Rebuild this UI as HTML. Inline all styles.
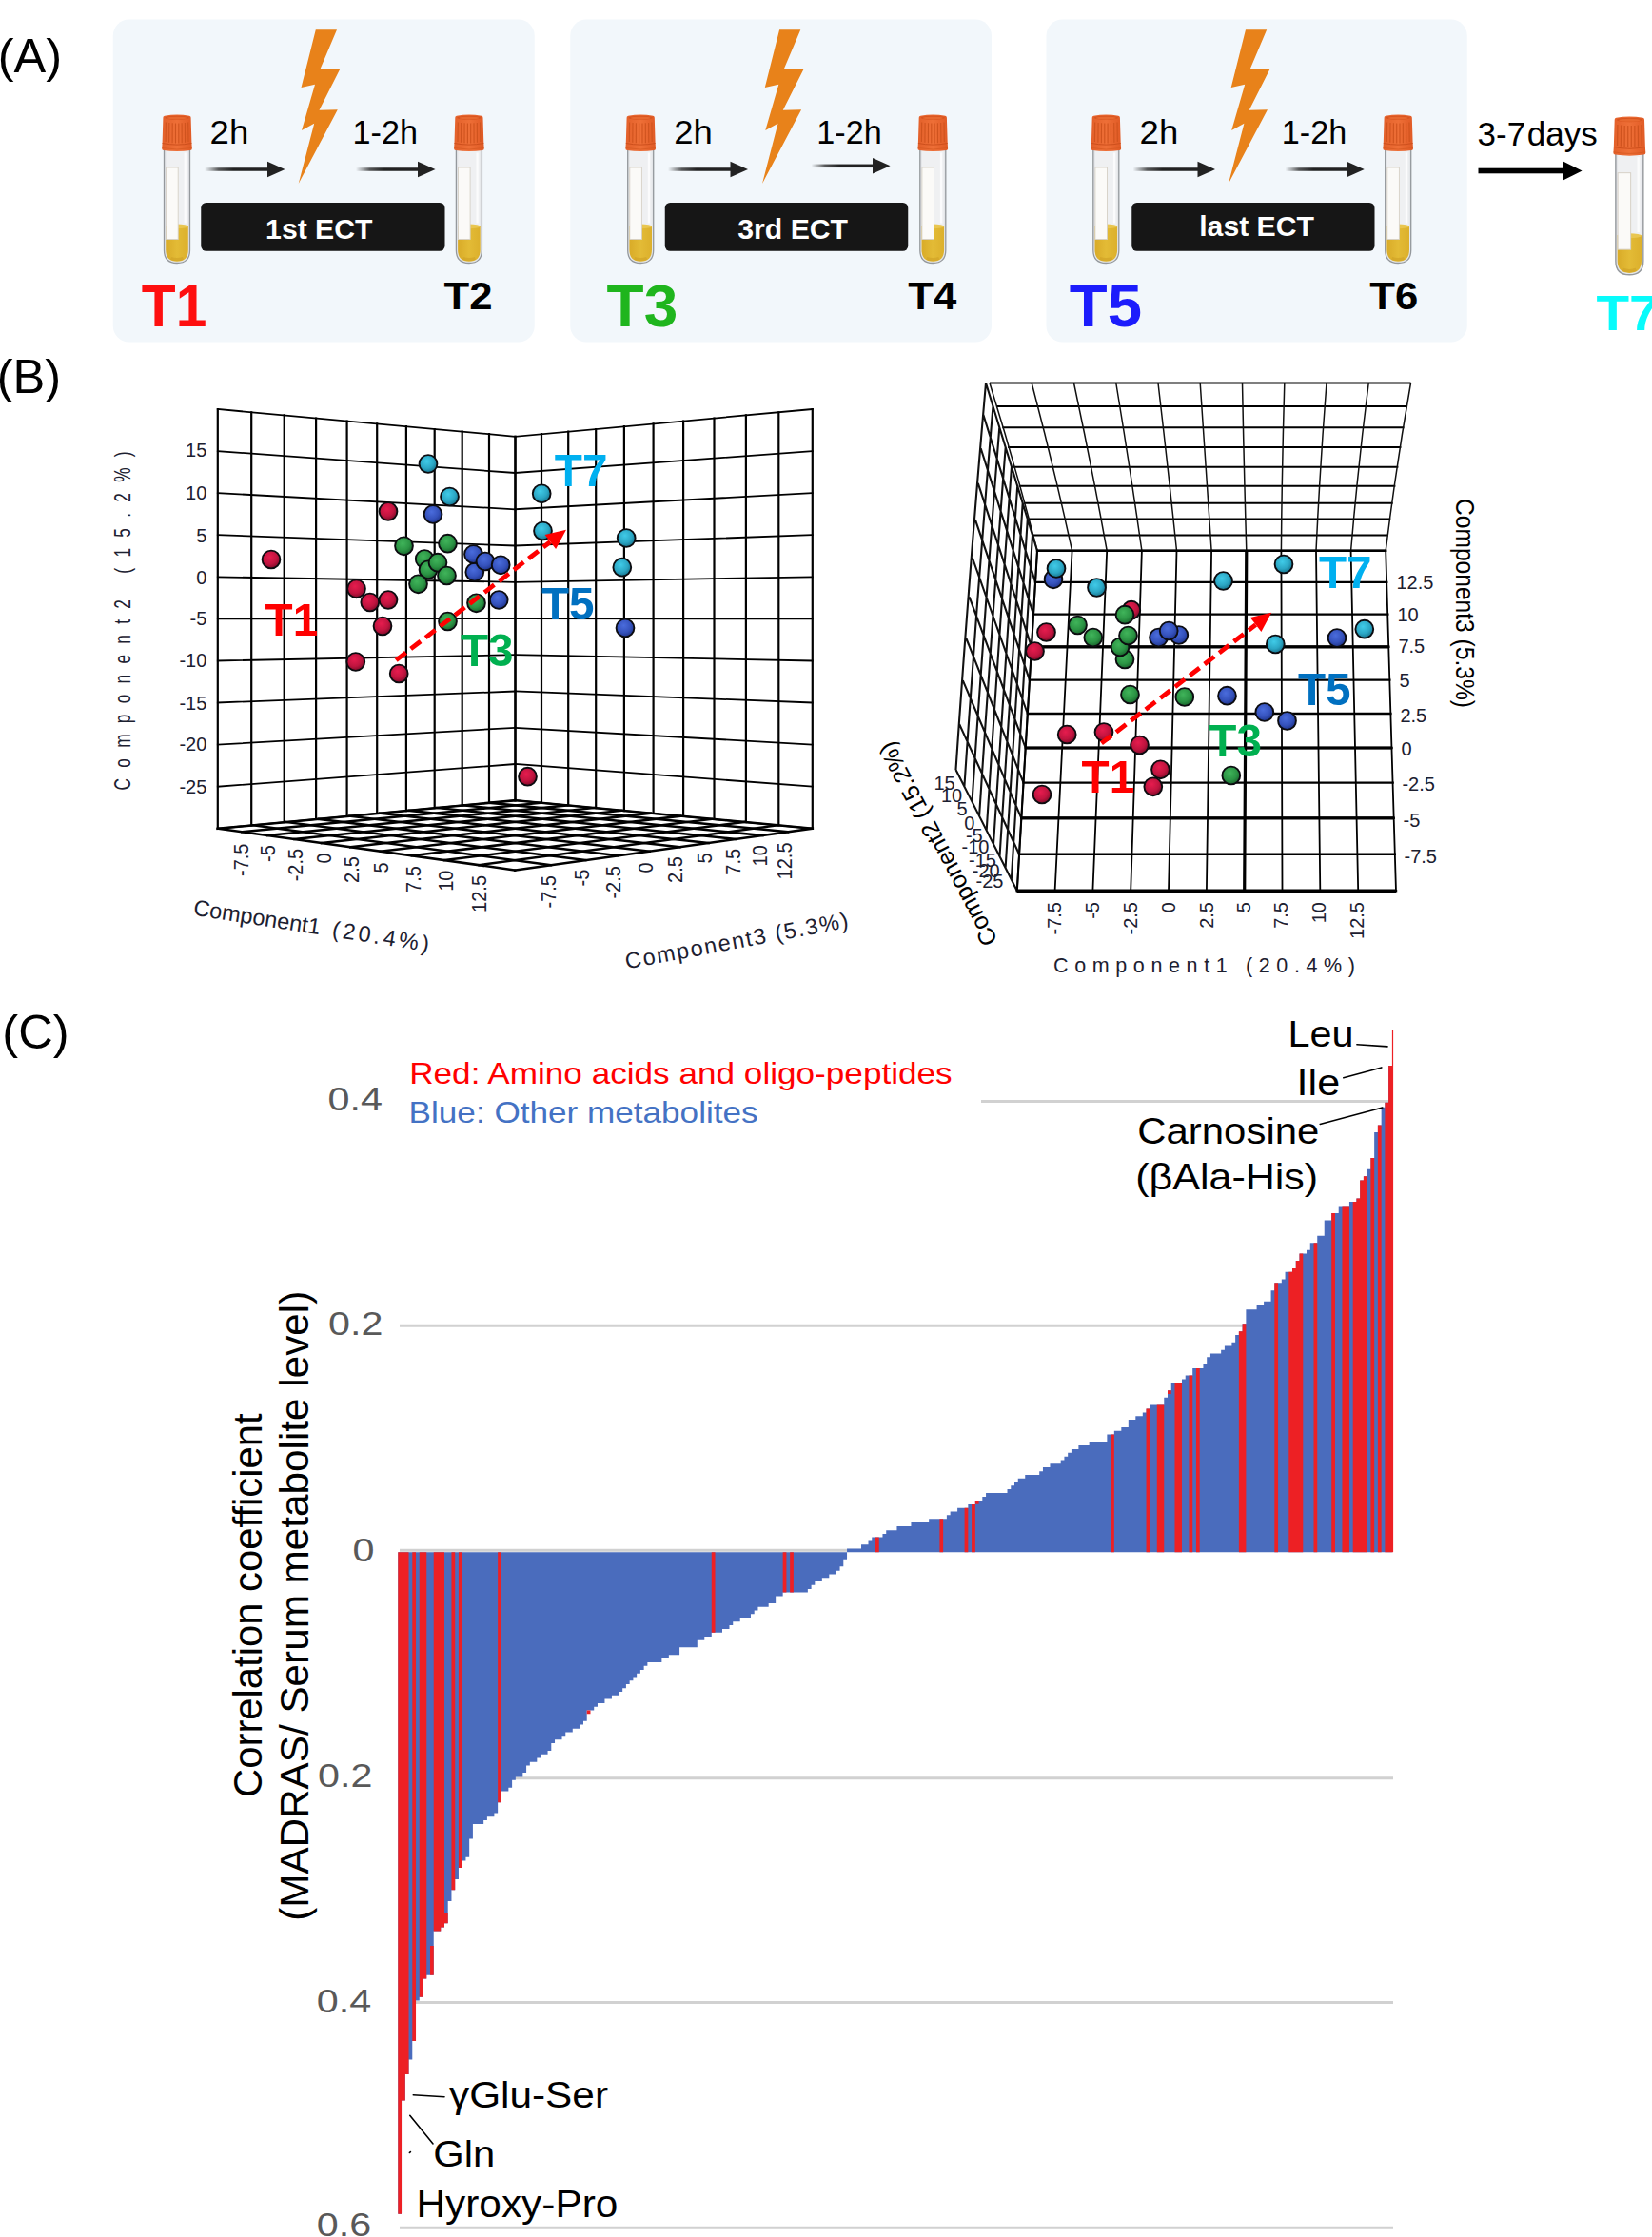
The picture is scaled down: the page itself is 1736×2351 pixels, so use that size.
<!DOCTYPE html>
<html lang="en">
<head>
<meta charset="utf-8">
<title>Figure</title>
<style>
html,body{margin:0;padding:0;background:#fff;}
body{width:1736px;height:2351px;overflow:hidden;}
svg{display:block;}
text{font-family:"Liberation Sans",sans-serif;}
</style>
</head>
<body>
<svg width="1736" height="2351" viewBox="0 0 1736 2351">
<rect x="0" y="0" width="1736" height="2351" fill="#ffffff"/>
<defs>
<linearGradient id="ag" x1="0" y1="0" x2="1" y2="0">
<stop offset="0" stop-color="#222222" stop-opacity="0"/>
<stop offset="0.22" stop-color="#222222" stop-opacity="0.75"/>
<stop offset="0.45" stop-color="#222222" stop-opacity="1"/>
<stop offset="1" stop-color="#222222" stop-opacity="1"/>
</linearGradient>
<linearGradient id="capg" x1="0" y1="0" x2="1" y2="0">
<stop offset="0" stop-color="#e3602a"/>
<stop offset="0.5" stop-color="#ee6f37"/>
<stop offset="1" stop-color="#e05a25"/>
</linearGradient>
<linearGradient id="liqg" x1="0" y1="0" x2="1" y2="0">
<stop offset="0" stop-color="#d9ab28"/>
<stop offset="0.5" stop-color="#e3bb36"/>
<stop offset="1" stop-color="#dcb02c"/>
</linearGradient>
<g id="tube">
<path d="M2.5,36 L2.5,142.5 Q2.5,156 16,156 Q29.5,156 29.5,142.5 L29.5,36 Z" fill="#e4e6e9" stroke="#94989c" stroke-width="1.3"/>
<path d="M4.6,38 L4.6,142 Q4.6,153.6 16,153.6 Q27.4,153.6 27.4,142 L27.4,38 Z" fill="#eff0f2"/>
<path d="M4.2,117 L27.8,117 L27.8,142 Q27.8,154.2 16,154.2 Q4.2,154.2 4.2,142 Z" fill="url(#liqg)"/>
<ellipse cx="16" cy="117.4" rx="11.8" ry="2.3" fill="#e9c650"/>
<path d="M9,152.2 Q16,155.4 23,152.2 L22,149.5 Q16,151.5 10,149.5 Z" fill="#cfa024" opacity="0.6"/>
<rect x="4.6" y="55.5" width="12.6" height="75.5" fill="#fbfaf8" stroke="#d6d0c6" stroke-width="0.9"/>
<rect x="23.6" y="40" width="2.2" height="74" fill="#ffffff" opacity="0.75"/>
<path d="M1.4,3.2 Q1.2,1.6 3,1.2 Q16,-1.2 29,1.2 Q30.8,1.6 30.6,3.2 L31.4,29.5 L31.8,35.8 Q31.8,37.4 30,37.6 Q16,39.6 2,37.6 Q0.2,37.4 0.2,35.8 L0.6,29.5 Z" fill="url(#capg)"/>
<ellipse cx="16" cy="3.2" rx="12.6" ry="2.1" fill="#d8541f"/>
<ellipse cx="16" cy="3.6" rx="10.6" ry="1.4" fill="#e7682f"/>
<path d="M0.6,30 Q16,33.2 31.4,30" fill="none" stroke="#cd4f1c" stroke-width="1"/>
<path d="M0.4,35 Q16,38 31.6,35" fill="none" stroke="#d4571f" stroke-width="0.7"/>
<g stroke="#cf531e" stroke-width="1.1">
<line x1="4.4" y1="8" x2="4.1" y2="28.6"/><line x1="7.8" y1="8.4" x2="7.6" y2="29.2"/>
<line x1="11.2" y1="8.8" x2="11.1" y2="29.7"/><line x1="14.5" y1="9" x2="14.5" y2="30"/>
<line x1="17.8" y1="9" x2="17.8" y2="30"/><line x1="21.1" y1="8.8" x2="21.2" y2="29.7"/>
<line x1="24.4" y1="8.4" x2="24.6" y2="29.2"/><line x1="27.7" y1="8" x2="28" y2="28.6"/>
</g>
</g>
</defs>
<rect x="118.75" y="20.5" width="443.00" height="339" rx="17" ry="17" fill="#f2f7fb"/>
<rect x="599.25" y="20.5" width="442.75" height="339" rx="17" ry="17" fill="#f2f7fb"/>
<rect x="1099.5" y="20.5" width="442.25" height="339" rx="17" ry="17" fill="#f2f7fb"/>
<text x="-2.3" y="75.8" font-size="50.6" fill="#000">(A)</text>
<use href="#tube" transform="translate(170.00,120.50) scale(1.0000,1.0000)"/>
<use href="#tube" transform="translate(476.90,120.50) scale(1.0000,1.0000)"/>
<use href="#tube" transform="translate(657.20,120.50) scale(1.0000,1.0000)"/>
<use href="#tube" transform="translate(964.30,120.50) scale(1.0000,1.0000)"/>
<use href="#tube" transform="translate(1146.30,120.50) scale(1.0000,1.0000)"/>
<use href="#tube" transform="translate(1453.20,120.50) scale(1.0000,1.0000)"/>
<use href="#tube" transform="translate(1695.20,122.50) scale(1.0720,1.0660)"/>
<polygon points="331.8,31.3 354.0,31.3 336.3,73.1 357.2,72.7 335.5,115.7 354.8,115.3 313.7,193.0 330.2,129.8 317.0,137.1 331.0,88.8 316.5,92.0" fill="#e8821a"/>
<polygon points="819.1,31.3 841.3,31.3 823.6,73.1 844.5,72.7 822.8,115.7 842.1,115.3 801.0,193.0 817.5,129.8 804.3,137.1 818.3,88.8 803.8,92.0" fill="#e8821a"/>
<polygon points="1309.0,31.3 1331.2,31.3 1313.5,73.1 1334.4,72.7 1312.7,115.7 1332.0,115.3 1290.9,193.0 1307.4,129.8 1294.2,137.1 1308.2,88.8 1293.7,92.0" fill="#e8821a"/>
<rect x="215.00" y="176.25" width="67.00" height="3.5" fill="url(#ag)"/><polygon points="281.00,169.70 299.50,178.00 281.00,186.30" fill="#222222"/>
<rect x="374.00" y="176.25" width="66.00" height="3.5" fill="url(#ag)"/><polygon points="439.00,169.70 457.50,178.00 439.00,186.30" fill="#222222"/>
<rect x="702.00" y="176.25" width="66.50" height="3.5" fill="url(#ag)"/><polygon points="767.50,169.70 786.00,178.00 767.50,186.30" fill="#222222"/>
<rect x="852.50" y="172.55" width="65.50" height="3.5" fill="url(#ag)"/><polygon points="917.00,166.00 935.50,174.30 917.00,182.60" fill="#222222"/>
<rect x="1190.50" y="176.25" width="69.00" height="3.5" fill="url(#ag)"/><polygon points="1258.50,169.70 1277.00,178.00 1258.50,186.30" fill="#222222"/>
<rect x="1350.50" y="176.25" width="65.75" height="3.5" fill="url(#ag)"/><polygon points="1415.25,169.70 1433.75,178.00 1415.25,186.30" fill="#222222"/>
<rect x="1553.5" y="176.7" width="92" height="5.6" fill="#000"/><polygon points="1643,169.7 1662.6,179.5 1643,189.3" fill="#000"/>
<text x="220.6" y="150.8" font-size="34.2" fill="#000" lengthAdjust="spacingAndGlyphs" textLength="40.6">2h</text>
<text x="370.6" y="150.8" font-size="34.2" fill="#000" lengthAdjust="spacingAndGlyphs">1-2h</text>
<text x="708.2" y="150.8" font-size="34.2" fill="#000" lengthAdjust="spacingAndGlyphs" textLength="40.6">2h</text>
<text x="858.3" y="150.8" font-size="34.2" fill="#000" lengthAdjust="spacingAndGlyphs">1-2h</text>
<text x="1197.6" y="150.8" font-size="34.2" fill="#000" lengthAdjust="spacingAndGlyphs" textLength="40.6">2h</text>
<text x="1346.8" y="150.8" font-size="34.2" fill="#000" lengthAdjust="spacingAndGlyphs">1-2h</text>
<text x="1552.6" y="152.8" font-size="35" fill="#000">3-7<tspan dx="1.6">days</tspan></text>
<rect x="211.25" y="213" width="256.25" height="50.8" rx="5.5" ry="5.5" fill="#161616"/><text x="335.3" y="250.8" font-size="30.2" font-weight="bold" fill="#fff" text-anchor="middle">1st ECT</text>
<rect x="698.75" y="213" width="255.50" height="50.8" rx="5.5" ry="5.5" fill="#161616"/><text x="833.2" y="250.8" font-size="30.2" font-weight="bold" fill="#fff" text-anchor="middle">3rd ECT</text>
<rect x="1189.25" y="213" width="255.25" height="50.8" rx="5.5" ry="5.5" fill="#161616"/><text x="1320.6" y="247.6" font-size="30.2" font-weight="bold" fill="#fff" text-anchor="middle">last ECT</text>
<text x="148.8" y="342.6" font-size="63.2" font-weight="bold" fill="#fe0f0f" textLength="68.5" lengthAdjust="spacingAndGlyphs">T1</text>
<text x="637.6" y="342.6" font-size="63.2" font-weight="bold" fill="#1fb51d" textLength="74.6" lengthAdjust="spacingAndGlyphs">T3</text>
<text x="1123.8" y="342.6" font-size="63.2" font-weight="bold" fill="#1c1cfc" textLength="76.2" lengthAdjust="spacingAndGlyphs">T5</text>
<text x="1677.4" y="346.6" font-size="52.6" font-weight="bold" fill="#08fbfb" textLength="66" lengthAdjust="spacingAndGlyphs">T7</text>
<text x="466.6" y="324.6" font-size="39.8" font-weight="bold" fill="#000" textLength="51" lengthAdjust="spacingAndGlyphs">T2</text>
<text x="954.2" y="324.6" font-size="39.8" font-weight="bold" fill="#000" textLength="51" lengthAdjust="spacingAndGlyphs">T4</text>
<text x="1439.2" y="324.6" font-size="39.8" font-weight="bold" fill="#000" textLength="51" lengthAdjust="spacingAndGlyphs">T6</text>
<defs>
<radialGradient id="br" cx="0.42" cy="0.36" r="0.66"><stop offset="0" stop-color="#e61c4e"/><stop offset="0.6" stop-color="#c0143f"/><stop offset="1" stop-color="#7a0b28"/></radialGradient>
<radialGradient id="bg" cx="0.42" cy="0.36" r="0.66"><stop offset="0" stop-color="#40b45a"/><stop offset="0.6" stop-color="#2b9444"/><stop offset="1" stop-color="#17602a"/></radialGradient>
<radialGradient id="bb" cx="0.42" cy="0.36" r="0.66"><stop offset="0" stop-color="#4a6cdc"/><stop offset="0.6" stop-color="#3552bc"/><stop offset="1" stop-color="#1d3288"/></radialGradient>
<radialGradient id="bc" cx="0.42" cy="0.36" r="0.66"><stop offset="0" stop-color="#40cbe8"/><stop offset="0.6" stop-color="#2ba6c4"/><stop offset="1" stop-color="#15708a"/></radialGradient>
</defs>
<text x="-3.3" y="412.7" font-size="50.6" fill="#000">(B)</text>
<path d="M228.8,430.0L228.8,870.8M264.2,433.3L264.2,867.4M298.7,436.4L298.7,864.2M332.1,439.5L332.1,861.0M364.6,442.5L364.6,857.9M396.2,445.4L396.2,855.0M426.9,448.2L426.9,852.1M456.7,451.0L456.7,849.2M485.7,453.6L485.7,846.5M514.0,456.2L514.0,843.8M541.5,458.8L541.5,841.2" fill="none" stroke="#000" stroke-width="2.2" stroke-linecap="square"/>
<path d="M228.8,430.0L541.5,458.8M228.8,474.1L541.5,497.0M228.8,518.1L541.5,535.3M228.8,562.2L541.5,573.5M228.8,606.3L541.5,611.8M228.8,650.4L541.5,650.0M228.8,694.5L541.5,688.2M228.8,738.5L541.5,726.5M228.8,782.6L541.5,764.8M228.8,826.7L541.5,803.0M228.8,870.8L541.5,841.2" fill="none" stroke="#000" stroke-width="1.8" stroke-linecap="square"/>
<path d="M541.5,458.8L541.5,841.2M569.0,456.2L569.0,843.8M597.2,453.6L597.2,846.5M626.2,451.0L626.2,849.2M655.9,448.2L655.9,852.1M686.6,445.4L686.6,855.0M718.1,442.5L718.1,857.9M750.5,439.5L750.5,861.0M783.9,436.4L783.9,864.2M818.3,433.3L818.3,867.4M853.8,430.0L853.8,870.8" fill="none" stroke="#000" stroke-width="2.2" stroke-linecap="square"/>
<path d="M541.5,458.8L853.8,430.0M541.5,497.0L853.8,474.1M541.5,535.2L853.8,518.1M541.5,573.5L853.8,562.2M541.5,611.8L853.8,606.3M541.5,650.0L853.8,650.4M541.5,688.2L853.8,694.5M541.5,726.5L853.8,738.5M541.5,764.8L853.8,782.6M541.5,803.0L853.8,826.7M541.5,841.2L853.8,870.8" fill="none" stroke="#000" stroke-width="1.8" stroke-linecap="square"/>
<path d="M541.5,841.2L853.8,870.7M514.9,843.8L828.1,874.3M487.4,846.4L801.4,878.1M458.9,849.0L773.6,882.0M429.5,851.8L744.6,886.0M399.0,854.7L714.4,890.3M367.4,857.7L682.8,894.7M334.7,860.8L649.8,899.3M300.7,864.0L615.3,904.1M265.4,867.3L579.1,909.2M228.8,870.8L541.2,914.5" fill="none" stroke="#000" stroke-width="2.5" stroke-linecap="square"/>
<path d="M541.5,841.2L228.8,870.8M568.1,843.8L254.4,874.3M595.6,846.4L281.2,878.1M624.0,849.0L309.0,882.0M653.4,851.8L338.0,886.0M683.8,854.7L368.2,890.3M715.4,857.7L399.8,894.7M748.1,860.8L432.8,899.3M782.0,864.0L467.3,904.1M817.2,867.3L503.4,909.2M853.8,870.7L541.2,914.5" fill="none" stroke="#000" stroke-width="2.5" stroke-linecap="square"/>
<text x="217.3" y="479.7" text-anchor="end" font-size="20" fill="#1c2030">15</text><text x="217.3" y="525.2" text-anchor="end" font-size="20" fill="#1c2030">10</text><text x="217.3" y="569.7" text-anchor="end" font-size="20" fill="#1c2030">5</text><text x="217.3" y="614.2" text-anchor="end" font-size="20" fill="#1c2030">0</text><text x="217.3" y="657.2" text-anchor="end" font-size="20" fill="#1c2030">-5</text><text x="217.3" y="701.0" text-anchor="end" font-size="20" fill="#1c2030">-10</text><text x="217.3" y="746.0" text-anchor="end" font-size="20" fill="#1c2030">-15</text><text x="217.3" y="789.2" text-anchor="end" font-size="20" fill="#1c2030">-20</text><text x="217.3" y="834.2" text-anchor="end" font-size="20" fill="#1c2030">-25</text>
<text transform="translate(137,830.5) rotate(-90) scale(1,1.4)" font-size="17.2" fill="#1c2030" textLength="356" lengthAdjust="spacing">Component2 (15.2%)</text>
<text transform="translate(260.8,886.5) rotate(-90) scale(1,1.13)" text-anchor="end" font-size="20" fill="#1c2030">-7.5</text><text transform="translate(288.9,888.2) rotate(-90) scale(1,1.13)" text-anchor="end" font-size="20" fill="#1c2030">-5</text><text transform="translate(318.0,891.9) rotate(-90) scale(1,1.13)" text-anchor="end" font-size="20" fill="#1c2030">-2.5</text><text transform="translate(348.0,896.4) rotate(-90) scale(1,1.13)" text-anchor="end" font-size="20" fill="#1c2030">0</text><text transform="translate(377.0,900.1) rotate(-90) scale(1,1.13)" text-anchor="end" font-size="20" fill="#1c2030">2.5</text><text transform="translate(408.3,906.4) rotate(-90) scale(1,1.13)" text-anchor="end" font-size="20" fill="#1c2030">5</text><text transform="translate(441.5,910.1) rotate(-90) scale(1,1.13)" text-anchor="end" font-size="20" fill="#1c2030">7.5</text><text transform="translate(475.5,914.6) rotate(-90) scale(1,1.13)" text-anchor="end" font-size="20" fill="#1c2030">10</text><text transform="translate(511.0,920.0) rotate(-90) scale(1,1.13)" text-anchor="end" font-size="20" fill="#1c2030">12.5</text><text transform="translate(583.5,920.0) rotate(-90) scale(1,1.13)" text-anchor="end" font-size="20" fill="#1c2030">-7.5</text><text transform="translate(618.9,913.7) rotate(-90) scale(1,1.13)" text-anchor="end" font-size="20" fill="#1c2030">-5</text><text transform="translate(652.1,910.1) rotate(-90) scale(1,1.13)" text-anchor="end" font-size="20" fill="#1c2030">-2.5</text><text transform="translate(685.7,906.4) rotate(-90) scale(1,1.13)" text-anchor="end" font-size="20" fill="#1c2030">0</text><text transform="translate(717.4,900.1) rotate(-90) scale(1,1.13)" text-anchor="end" font-size="20" fill="#1c2030">2.5</text><text transform="translate(748.3,896.4) rotate(-90) scale(1,1.13)" text-anchor="end" font-size="20" fill="#1c2030">5</text><text transform="translate(777.8,891.9) rotate(-90) scale(1,1.13)" text-anchor="end" font-size="20" fill="#1c2030">7.5</text><text transform="translate(806.0,888.2) rotate(-90) scale(1,1.13)" text-anchor="end" font-size="20" fill="#1c2030">10</text><text transform="translate(832.3,885.5) rotate(-90) scale(1,1.13)" text-anchor="end" font-size="20" fill="#1c2030">12.5</text>
<text transform="translate(202.5,961.5) rotate(8.9)" font-size="23.5" fill="#1c2030">Component1<tspan letter-spacing="3.4" dx="3"> (20.4%)</tspan></text>
<text transform="translate(658.5,1018.5) rotate(-10.6)" font-size="23.5" fill="#1c2030" textLength="238" lengthAdjust="spacing">Component3 (5.3%)</text>
<circle cx="285.0" cy="588.0" r="9.4" fill="url(#br)" stroke="#0c0c10" stroke-width="1.9"/><circle cx="408.0" cy="537.5" r="9.4" fill="url(#br)" stroke="#0c0c10" stroke-width="1.9"/><circle cx="374.5" cy="618.8" r="9.4" fill="url(#br)" stroke="#0c0c10" stroke-width="1.9"/><circle cx="388.8" cy="633.0" r="9.4" fill="url(#br)" stroke="#0c0c10" stroke-width="1.9"/><circle cx="408.0" cy="630.5" r="9.4" fill="url(#br)" stroke="#0c0c10" stroke-width="1.9"/><circle cx="402.0" cy="658.0" r="9.4" fill="url(#br)" stroke="#0c0c10" stroke-width="1.9"/><circle cx="373.8" cy="695.5" r="9.4" fill="url(#br)" stroke="#0c0c10" stroke-width="1.9"/><circle cx="419.2" cy="708.0" r="9.4" fill="url(#br)" stroke="#0c0c10" stroke-width="1.9"/><circle cx="554.5" cy="816.2" r="9.4" fill="url(#br)" stroke="#0c0c10" stroke-width="1.9"/><circle cx="450.0" cy="487.5" r="9.4" fill="url(#bc)" stroke="#0c0c10" stroke-width="1.9"/><circle cx="472.5" cy="522.0" r="9.4" fill="url(#bc)" stroke="#0c0c10" stroke-width="1.9"/><circle cx="569.2" cy="518.8" r="9.4" fill="url(#bc)" stroke="#0c0c10" stroke-width="1.9"/><circle cx="570.5" cy="558.0" r="9.4" fill="url(#bc)" stroke="#0c0c10" stroke-width="1.9"/><circle cx="658.2" cy="565.5" r="9.4" fill="url(#bc)" stroke="#0c0c10" stroke-width="1.9"/><circle cx="653.8" cy="596.2" r="9.4" fill="url(#bc)" stroke="#0c0c10" stroke-width="1.9"/><circle cx="455.0" cy="540.5" r="9.4" fill="url(#bb)" stroke="#0c0c10" stroke-width="1.9"/><circle cx="498.8" cy="601.2" r="9.4" fill="url(#bb)" stroke="#0c0c10" stroke-width="1.9"/><circle cx="497.5" cy="582.5" r="9.4" fill="url(#bb)" stroke="#0c0c10" stroke-width="1.9"/><circle cx="510.0" cy="590.0" r="9.4" fill="url(#bb)" stroke="#0c0c10" stroke-width="1.9"/><circle cx="526.2" cy="593.8" r="9.4" fill="url(#bb)" stroke="#0c0c10" stroke-width="1.9"/><circle cx="524.2" cy="630.5" r="9.4" fill="url(#bb)" stroke="#0c0c10" stroke-width="1.9"/><circle cx="657.0" cy="660.0" r="9.4" fill="url(#bb)" stroke="#0c0c10" stroke-width="1.9"/><circle cx="424.5" cy="573.8" r="9.4" fill="url(#bg)" stroke="#0c0c10" stroke-width="1.9"/><circle cx="470.5" cy="571.2" r="9.4" fill="url(#bg)" stroke="#0c0c10" stroke-width="1.9"/><circle cx="446.2" cy="587.5" r="9.4" fill="url(#bg)" stroke="#0c0c10" stroke-width="1.9"/><circle cx="450.0" cy="598.8" r="9.4" fill="url(#bg)" stroke="#0c0c10" stroke-width="1.9"/><circle cx="460.0" cy="591.2" r="9.4" fill="url(#bg)" stroke="#0c0c10" stroke-width="1.9"/><circle cx="469.5" cy="605.0" r="9.4" fill="url(#bg)" stroke="#0c0c10" stroke-width="1.9"/><circle cx="439.5" cy="613.8" r="9.4" fill="url(#bg)" stroke="#0c0c10" stroke-width="1.9"/><circle cx="500.5" cy="633.8" r="9.4" fill="url(#bg)" stroke="#0c0c10" stroke-width="1.9"/><circle cx="470.5" cy="653.0" r="9.4" fill="url(#bg)" stroke="#0c0c10" stroke-width="1.9"/>
<line x1="416.2" y1="693.8" x2="578.3" y2="569.5" stroke="#ff0000" stroke-width="4.8" stroke-dasharray="13 6.5"/><polygon points="595.0,556.8 584.1,577.1 572.6,562.0" fill="#ff0000"/>
<text x="278.6" y="667.5" font-size="48.6" font-weight="bold" fill="#ff0000" textLength="55.6" lengthAdjust="spacingAndGlyphs">T1</text><text x="484" y="700" font-size="48.6" font-weight="bold" fill="#00b050" textLength="55.6" lengthAdjust="spacingAndGlyphs">T3</text><text x="569" y="650.75" font-size="48.6" font-weight="bold" fill="#0070c0" textLength="55.6" lengthAdjust="spacingAndGlyphs">T5</text><text x="582.8" y="511.25" font-size="48.6" font-weight="bold" fill="#00b0f0" textLength="55.6" lengthAdjust="spacingAndGlyphs">T7</text>
<path d="M1040.0,402.5L1482.5,402.5M1047.0,427L1478.9,427M1053.3,449.25L1475.5,449.25M1059.1,470L1472.4,470M1065.0,490.75L1469.4,490.75M1070.7,510.75L1466.4,510.75M1075.8,528.75L1463.7,528.75M1080.6,545.5L1461.2,545.5M1085.4,562.5L1458.7,562.5M1090.0,578.75L1456.2,578.75" fill="none" stroke="#000" stroke-width="2.1"/>
<path d="M1040.0,402.5Q1067.2,490 1090.0,578.75M1084.2,402.5Q1107.2,490 1126.6,578.75M1128.5,402.5Q1147.2,490 1163.2,578.75M1172.8,402.5Q1187.2,490 1199.9,578.75M1217.0,402.5Q1227.2,490 1236.5,578.75M1261.2,402.5Q1267.2,490 1273.1,578.75M1305.5,402.5Q1307.2,490 1309.8,578.75M1349.8,402.5Q1347.2,490 1346.4,578.75M1394.0,402.5Q1387.2,490 1383.0,578.75M1438.2,402.5Q1427.1,490 1419.6,578.75M1482.5,402.5Q1467.1,490 1456.2,578.75" fill="none" stroke="#111" stroke-width="1.5"/>
<path d="M1036.0,402.5L1090.0,578.8M1033.4,436.0L1088.0,611.9M1030.7,471.2L1086.0,645.6M1027.8,507.9L1084.0,679.8M1024.9,546.1L1081.9,714.6M1021.8,586.0L1079.8,750.0M1018.6,627.4L1077.7,786.0M1015.2,670.5L1075.5,822.6M1011.8,715.1L1073.3,859.8M1008.2,761.2L1071.0,897.7M1004.5,809.0L1068.8,936.2M1036.0,402.5Q1018.2,605.8 1004.5,809.0M1043.5,427.0Q1026.7,626.8 1013.4,826.7M1050.3,449.2Q1034.5,646.0 1021.5,842.8M1056.7,470.0Q1041.7,663.9 1029.1,857.7M1063.0,490.8Q1048.9,681.7 1036.7,872.7M1069.2,510.8Q1055.8,699.0 1044.0,887.2M1074.7,528.8Q1062.0,714.5 1050.5,900.2M1079.8,545.5Q1067.8,728.9 1056.6,912.2M1085.0,562.5Q1073.7,743.5 1062.8,924.5M1090.0,578.8Q1079.4,757.5 1068.8,936.2" fill="none" stroke="#111" stroke-width="2.1"/>
<path d="M1090.0,578.8L1068.8,936.2M1126.6,578.8L1108.6,936.2M1163.2,578.8L1148.4,936.2M1199.9,578.8L1188.2,936.2M1236.5,578.8L1228.0,936.2M1273.1,578.8L1267.9,936.2M1309.8,578.8L1307.7,936.2M1346.4,578.8L1347.5,936.2M1383.0,578.8L1387.3,936.2M1419.6,578.8L1427.2,936.2M1456.2,578.8L1467.0,936.2" fill="none" stroke="#000" stroke-width="1.8" stroke-linecap="square"/>
<path d="M1090.0,578.8L1456.2,578.8M1088.0,611.9L1457.2,611.9M1086.0,645.6L1458.3,645.6M1084.0,679.8L1459.3,679.8M1081.9,714.6L1460.3,714.6M1079.8,750.0L1461.4,750.0M1077.7,786.0L1462.5,786.0M1075.5,822.6L1463.6,822.6M1073.3,859.8L1464.7,859.8M1071.0,897.7L1465.8,897.7M1068.8,936.2L1467.0,936.2" fill="none" stroke="#000" stroke-width="2.4" stroke-linecap="square"/>
<path d="M1084.0,679.8L1459.3,679.8M1077.7,786.0L1462.5,786.0M1073.3,859.8L1464.7,859.8M1309.8,578.8L1307.7,936.2" fill="none" stroke="#000" stroke-width="3.2"/>
<path d="M1068.75,936.25L1467.0,936.25" stroke="#000" stroke-width="3.6"/>
<text x="1467.5" y="619.0" font-size="20" fill="#1c2030">12.5</text><text x="1468.4" y="652.6" font-size="20" fill="#1c2030">10</text><text x="1469.4" y="686.0" font-size="20" fill="#1c2030">7.5</text><text x="1470.4" y="722.0" font-size="20" fill="#1c2030">5</text><text x="1471.4" y="758.6" font-size="20" fill="#1c2030">2.5</text><text x="1472.4" y="794.0" font-size="20" fill="#1c2030">0</text><text x="1473.4" y="831.0" font-size="20" fill="#1c2030">-2.5</text><text x="1474.5" y="869.0" font-size="20" fill="#1c2030">-5</text><text x="1475.5" y="906.5" font-size="20" fill="#1c2030">-7.5</text>
<text transform="translate(1529.5,524) rotate(90)" font-size="27.5" fill="#000" textLength="220" lengthAdjust="spacingAndGlyphs">Component3 (5.3%)</text>
<text transform="translate(1114.5,948) rotate(-90)" text-anchor="end" font-size="20" fill="#1c2030">-7.5</text><text transform="translate(1154.5,948) rotate(-90)" text-anchor="end" font-size="20" fill="#1c2030">-5</text><text transform="translate(1194.5,948) rotate(-90)" text-anchor="end" font-size="20" fill="#1c2030">-2.5</text><text transform="translate(1234.5,948) rotate(-90)" text-anchor="end" font-size="20" fill="#1c2030">0</text><text transform="translate(1274.5,948) rotate(-90)" text-anchor="end" font-size="20" fill="#1c2030">2.5</text><text transform="translate(1314.0,948) rotate(-90)" text-anchor="end" font-size="20" fill="#1c2030">5</text><text transform="translate(1353.2,948) rotate(-90)" text-anchor="end" font-size="20" fill="#1c2030">7.5</text><text transform="translate(1392.5,948) rotate(-90)" text-anchor="end" font-size="20" fill="#1c2030">10</text><text transform="translate(1433.2,948) rotate(-90)" text-anchor="end" font-size="20" fill="#1c2030">12.5</text>
<text x="1107" y="1021.5" font-size="21.5" fill="#1c2030" textLength="317" lengthAdjust="spacing">Component1 (20.4%)</text>
<text transform="translate(1049,988.5) rotate(-117.8)" font-size="25.2" fill="#000" textLength="238.5" lengthAdjust="spacingAndGlyphs">Component2 (15.2%)</text>
<text x="992.5" y="829.5" text-anchor="middle" font-size="20" fill="#1c2030">15</text><text x="1000.0" y="843.0" text-anchor="middle" font-size="20" fill="#1c2030">10</text><text x="1011.0" y="857.0" text-anchor="middle" font-size="20" fill="#1c2030">5</text><text x="1018.8" y="872.0" text-anchor="middle" font-size="20" fill="#1c2030">0</text><text x="1023.8" y="884.5" text-anchor="middle" font-size="20" fill="#1c2030">-5</text><text x="1025.0" y="897.0" text-anchor="middle" font-size="20" fill="#1c2030">-10</text><text x="1032.5" y="910.8" text-anchor="middle" font-size="20" fill="#1c2030">-15</text><text x="1036.2" y="922.0" text-anchor="middle" font-size="20" fill="#1c2030">-20</text><text x="1040.0" y="933.0" text-anchor="middle" font-size="20" fill="#1c2030">-25</text>
<circle cx="1188.8" cy="641.2" r="9.4" fill="url(#br)" stroke="#0c0c10" stroke-width="1.9"/><circle cx="1099.5" cy="664.5" r="9.4" fill="url(#br)" stroke="#0c0c10" stroke-width="1.9"/><circle cx="1087.5" cy="684.5" r="9.4" fill="url(#br)" stroke="#0c0c10" stroke-width="1.9"/><circle cx="1121.2" cy="772.0" r="9.4" fill="url(#br)" stroke="#0c0c10" stroke-width="1.9"/><circle cx="1160.0" cy="769.5" r="9.4" fill="url(#br)" stroke="#0c0c10" stroke-width="1.9"/><circle cx="1197.5" cy="783.0" r="9.4" fill="url(#br)" stroke="#0c0c10" stroke-width="1.9"/><circle cx="1219.5" cy="808.8" r="9.4" fill="url(#br)" stroke="#0c0c10" stroke-width="1.9"/><circle cx="1211.8" cy="826.8" r="9.4" fill="url(#br)" stroke="#0c0c10" stroke-width="1.9"/><circle cx="1095.0" cy="835.0" r="9.4" fill="url(#br)" stroke="#0c0c10" stroke-width="1.9"/><circle cx="1107.0" cy="608.8" r="9.4" fill="url(#bb)" stroke="#0c0c10" stroke-width="1.9"/><circle cx="1110.0" cy="597.5" r="9.4" fill="url(#bc)" stroke="#0c0c10" stroke-width="1.9"/><circle cx="1152.5" cy="617.5" r="9.4" fill="url(#bc)" stroke="#0c0c10" stroke-width="1.9"/><circle cx="1285.5" cy="610.5" r="9.4" fill="url(#bc)" stroke="#0c0c10" stroke-width="1.9"/><circle cx="1349.0" cy="593.0" r="9.4" fill="url(#bc)" stroke="#0c0c10" stroke-width="1.9"/><circle cx="1340.3" cy="677.0" r="9.4" fill="url(#bc)" stroke="#0c0c10" stroke-width="1.9"/><circle cx="1433.8" cy="661.2" r="9.4" fill="url(#bc)" stroke="#0c0c10" stroke-width="1.9"/><circle cx="1217.5" cy="670.0" r="9.4" fill="url(#bb)" stroke="#0c0c10" stroke-width="1.9"/><circle cx="1238.8" cy="667.5" r="9.4" fill="url(#bb)" stroke="#0c0c10" stroke-width="1.9"/><circle cx="1228.2" cy="663.0" r="9.4" fill="url(#bb)" stroke="#0c0c10" stroke-width="1.9"/><circle cx="1289.5" cy="731.2" r="9.4" fill="url(#bb)" stroke="#0c0c10" stroke-width="1.9"/><circle cx="1328.8" cy="748.5" r="9.4" fill="url(#bb)" stroke="#0c0c10" stroke-width="1.9"/><circle cx="1352.5" cy="757.5" r="9.4" fill="url(#bb)" stroke="#0c0c10" stroke-width="1.9"/><circle cx="1405.0" cy="670.5" r="9.4" fill="url(#bb)" stroke="#0c0c10" stroke-width="1.9"/><circle cx="1182.0" cy="646.2" r="9.4" fill="url(#bg)" stroke="#0c0c10" stroke-width="1.9"/><circle cx="1132.5" cy="657.0" r="9.4" fill="url(#bg)" stroke="#0c0c10" stroke-width="1.9"/><circle cx="1148.8" cy="670.0" r="9.4" fill="url(#bg)" stroke="#0c0c10" stroke-width="1.9"/><circle cx="1182.0" cy="693.0" r="9.4" fill="url(#bg)" stroke="#0c0c10" stroke-width="1.9"/><circle cx="1177.0" cy="680.0" r="9.4" fill="url(#bg)" stroke="#0c0c10" stroke-width="1.9"/><circle cx="1185.5" cy="668.0" r="9.4" fill="url(#bg)" stroke="#0c0c10" stroke-width="1.9"/><circle cx="1187.5" cy="730.0" r="9.4" fill="url(#bg)" stroke="#0c0c10" stroke-width="1.9"/><circle cx="1244.8" cy="732.5" r="9.4" fill="url(#bg)" stroke="#0c0c10" stroke-width="1.9"/><circle cx="1293.8" cy="815.0" r="9.4" fill="url(#bg)" stroke="#0c0c10" stroke-width="1.9"/>
<line x1="1157.5" y1="781.2" x2="1319.6" y2="656.6" stroke="#ff0000" stroke-width="4.8" stroke-dasharray="13 6.5"/><polygon points="1336.2,643.8 1325.4,664.1 1313.8,649.0" fill="#ff0000"/>
<text x="1136.6" y="832.5" font-size="48.6" font-weight="bold" fill="#ff0000" textLength="55.6" lengthAdjust="spacingAndGlyphs">T1</text><text x="1270.3" y="794.5" font-size="48.6" font-weight="bold" fill="#00b050" textLength="55.6" lengthAdjust="spacingAndGlyphs">T3</text><text x="1364" y="741.25" font-size="48.6" font-weight="bold" fill="#0070c0" textLength="55.6" lengthAdjust="spacingAndGlyphs">T5</text><text x="1386" y="618" font-size="48.6" font-weight="bold" fill="#00b0f0" textLength="55.6" lengthAdjust="spacingAndGlyphs">T7</text>
<text x="2.3" y="1102" font-size="50.6" fill="#000">(C)</text>
<g stroke="#d1d1d1" stroke-width="3.0"><line x1="1031" y1="1157.5" x2="1464" y2="1157.5"/><line x1="420" y1="1393.3" x2="1464" y2="1393.3"/><line x1="420" y1="1629.2" x2="1464" y2="1629.2"/><line x1="420" y1="1868.7" x2="1464" y2="1868.7"/><line x1="420" y1="2104.6" x2="1464" y2="2104.6"/><line x1="420" y1="2341.3" x2="1464" y2="2341.3"/></g>
<path d="M418.30,1631.3V2326.75H422.04V2207.50H425.79V2180.00H429.53V2164.50H433.28V2145.00H437.02V2102.50H440.76V2098.75H444.51V2079.50H448.25V2075.75H452.00V2075.75H455.74V2029.50H459.48V2029.50H463.23V2025.50H466.97V2021.25H470.72V1998.00H474.46V1986.25H478.20V1975.00H481.95V1963.00H485.69V1955.50H489.44V1951.75H493.18V1932.50H496.92V1917.00H500.67V1917.00H504.41V1917.00H508.16V1913.00H511.90V1909.25H515.64V1909.25H519.39V1905.50H523.13V1894.25H526.88V1882.50H530.62V1882.50H534.36V1878.75H538.11V1870.75H541.85V1867.50H545.60V1867.50H549.34V1863.00H553.08V1855.50H556.83V1851.75H560.57V1851.75H564.32V1847.50H568.06V1843.75H571.80V1843.75H575.55V1840.00H579.29V1832.00H583.04V1828.25H586.78V1828.25H590.52V1824.25H594.27V1820.50H598.01V1820.50H601.76V1816.75H605.50V1816.75H609.24V1812.50H612.99V1808.75H616.73V1797.50H620.48V1797.50H624.22V1793.75H627.96V1790.00H631.71V1790.00H635.45V1785.50H639.20V1785.50H642.94V1781.75H646.68V1781.75H650.43V1778.00H654.17V1774.25H657.92V1770.00H661.66V1766.25H665.40V1762.50H669.15V1758.75H672.89V1755.00H676.64V1750.75H680.38V1747.00H684.12V1747.00H687.87V1747.00H691.61V1747.00H695.36V1743.00H699.10V1743.00H702.84V1739.25H706.59V1739.25H710.33V1739.25H714.08V1731.25H717.82V1731.25H721.56V1731.25H725.31V1731.25H729.05V1731.25H732.80V1723.75H736.54V1723.75H740.28V1720.00H744.03V1720.00H747.77V1715.75H751.52V1715.75H755.26V1715.75H759.00V1712.00H762.75V1712.00H766.49V1708.00H770.24V1704.25H773.98V1704.25H777.72V1700.00H781.47V1700.00H785.21V1700.00H788.96V1696.25H792.70V1692.50H796.44V1688.75H800.19V1688.75H803.93V1688.75H807.68V1685.00H811.42V1685.00H815.16V1677.50H818.91V1677.50H822.65V1673.60H826.40V1673.60H830.14V1673.60H833.88V1673.60H837.63V1673.60H841.37V1673.60H845.12V1673.60H848.86V1669.90H852.60V1665.70H856.35V1662.00H860.09V1662.00H863.84V1658.20H867.58V1658.20H871.32V1654.50H875.07V1654.50H878.81V1650.70H882.56V1646.30H886.30V1638.80H890.04V1631.3ZM890.04,1631.3V1627.40H893.79V1627.40H897.53V1627.40H901.28V1627.40H905.02V1623.30H908.76V1623.30H912.51V1619.50H916.25V1615.40H920.00V1615.40H923.74V1615.40H927.48V1612.00H931.23V1608.20H934.97V1608.20H938.72V1608.20H942.46V1604.10H946.20V1604.10H949.95V1604.10H953.69V1604.10H957.44V1600.00H961.18V1600.00H964.92V1600.00H968.67V1600.00H972.41V1600.00H976.16V1596.30H979.90V1596.30H983.64V1596.30H987.39V1596.30H991.13V1596.30H994.88V1592.30H998.62V1588.50H1002.36V1588.50H1006.11V1584.80H1009.85V1584.80H1013.60V1584.80H1017.34V1581.00H1021.08V1581.00H1024.83V1576.90H1028.57V1576.90H1032.32V1573.00H1036.06V1569.00H1039.80V1569.00H1043.55V1569.00H1047.29V1569.00H1051.04V1569.00H1054.78V1569.00H1058.52V1565.00H1062.27V1561.25H1066.01V1557.50H1069.76V1553.75H1073.50V1553.75H1077.24V1550.00H1080.99V1550.00H1084.73V1550.00H1088.48V1550.00H1092.22V1546.25H1095.96V1542.00H1099.71V1542.00H1103.45V1538.25H1107.20V1538.25H1110.94V1538.25H1114.68V1534.50H1118.43V1530.75H1122.17V1526.75H1125.92V1523.00H1129.66V1523.00H1133.40V1519.00H1137.15V1519.00H1140.89V1519.00H1144.64V1515.25H1148.38V1515.25H1152.12V1515.25H1155.87V1515.25H1159.61V1515.25H1163.36V1507.50H1167.10V1507.50H1170.84V1503.75H1174.59V1503.75H1178.33V1500.00H1182.08V1500.00H1185.82V1492.00H1189.56V1492.00H1193.31V1488.25H1197.05V1488.25H1200.80V1484.50H1204.54V1480.50H1208.28V1476.50H1212.03V1476.50H1215.77V1476.50H1219.52V1476.50H1223.26V1468.75H1227.00V1461.25H1230.75V1453.25H1234.49V1453.25H1238.24V1453.25H1241.98V1449.50H1245.72V1445.50H1249.47V1445.50H1253.21V1438.00H1256.96V1438.00H1260.70V1438.00H1264.44V1434.00H1268.19V1426.25H1271.93V1422.50H1275.68V1422.50H1279.42V1422.50H1283.16V1418.75H1286.91V1414.50H1290.65V1414.50H1294.40V1410.75H1298.14V1403.00H1301.88V1399.25H1305.63V1391.25H1309.37V1376.25H1313.12V1376.25H1316.86V1376.25H1320.60V1372.00H1324.35V1372.00H1328.09V1367.75H1331.84V1367.75H1335.58V1356.25H1339.32V1348.25H1343.07V1348.25H1346.81V1344.50H1350.56V1336.75H1354.30V1336.75H1358.04V1333.00H1361.79V1325.00H1365.53V1317.50H1369.28V1317.50H1373.02V1313.75H1376.76V1306.25H1380.51V1306.25H1384.25V1298.75H1388.00V1298.75H1391.74V1282.50H1395.48V1282.50H1399.23V1275.00H1402.97V1275.00H1406.72V1267.50H1410.46V1267.50H1414.20V1267.50H1417.95V1263.00H1421.69V1263.00H1425.44V1259.50H1429.18V1240.50H1432.92V1236.25H1436.67V1228.75H1440.41V1217.00H1444.16V1190.00H1447.90V1182.50H1451.64V1163.75H1455.39V1158.75H1459.13V1120.00H1462.88V1631.3Z" fill="#4a6cbd"/>
<path d="M418.30,1631.3V2326.75H422.04V2207.50H425.79V2180.00H429.53V1631.3ZM433.28,1631.3V2145.00H437.02V1631.3ZM440.76,1631.3V2098.75H444.51V2079.50H448.25V1631.3ZM455.74,1631.3V2029.50H459.48V2029.50H463.23V2025.50H466.97V1631.3ZM474.46,1631.3V1986.25H478.20V1631.3ZM481.95,1631.3V1963.00H485.69V1631.3ZM523.13,1631.3V1894.25H526.88V1631.3ZM747.77,1631.3V1715.75H751.52V1631.3ZM822.65,1631.3V1673.60H826.40V1631.3ZM830.14,1631.3V1673.60H833.88V1631.3ZM920.00,1631.3V1615.40H923.74V1631.3ZM987.39,1631.3V1596.30H991.13V1631.3ZM1013.60,1631.3V1584.80H1017.34V1631.3ZM1021.08,1631.3V1581.00H1024.83V1631.3ZM1167.10,1631.3V1507.50H1170.84V1631.3ZM1204.54,1631.3V1480.50H1208.28V1631.3ZM1215.77,1631.3V1476.50H1219.52V1476.50H1223.26V1631.3ZM1234.49,1631.3V1453.25H1238.24V1453.25H1241.98V1631.3ZM1249.47,1631.3V1445.50H1253.21V1631.3ZM1256.96,1631.3V1438.00H1260.70V1631.3ZM1301.88,1631.3V1399.25H1305.63V1391.25H1309.37V1631.3ZM1339.32,1631.3V1348.25H1343.07V1631.3ZM1354.30,1631.3V1336.75H1358.04V1333.00H1361.79V1325.00H1365.53V1317.50H1369.28V1631.3ZM1380.51,1631.3V1306.25H1384.25V1631.3ZM1399.23,1631.3V1275.00H1402.97V1631.3ZM1410.46,1631.3V1267.50H1414.20V1267.50H1417.95V1631.3ZM1421.69,1631.3V1263.00H1425.44V1259.50H1429.18V1240.50H1432.92V1236.25H1436.67V1631.3ZM1440.41,1631.3V1217.00H1444.16V1631.3ZM1447.90,1631.3V1182.50H1451.64V1631.3ZM1455.39,1631.3V1158.75H1459.13V1120.00H1462.88V1631.3ZM452.00,2045H455.74V2075.75H452.00ZM466.97,2010H470.72V2021.25H466.97ZM616.73,1797.5H620.48V1801.3H616.73ZM1227.00,1461.25H1230.75V1465H1227.00ZM1024.83,1576.9H1028.57V1580.7H1024.83ZM1462.9,1631.3H1464.1V1082H1462.9Z" fill="#ed2024"/>
<text transform="translate(402.0,1166.6) scale(1.2,1)" font-size="34.4" fill="#595959" text-anchor="end">0.4</text><text transform="translate(402.4,1402.8) scale(1.2,1)" font-size="34.4" fill="#595959" text-anchor="end">0.2</text><text transform="translate(393.4,1641.4) scale(1.2,1)" font-size="34.4" fill="#595959" text-anchor="end">0</text><text transform="translate(391.4,1877.8) scale(1.2,1)" font-size="34.4" fill="#595959" text-anchor="end">0.2</text><text transform="translate(390.2,2115) scale(1.2,1)" font-size="34.4" fill="#595959" text-anchor="end">0.4</text><text transform="translate(390.2,2350.2) scale(1.2,1)" font-size="34.4" fill="#595959" text-anchor="end">0.6</text>
<text x="430.2" y="1138.5" font-size="31.4" fill="#ff0000" textLength="570.5" lengthAdjust="spacingAndGlyphs">Red: Amino acids and oligo-peptides</text>
<text x="429.6" y="1180" font-size="31.4" fill="#4472c4" textLength="367" lengthAdjust="spacingAndGlyphs">Blue: Other metabolites</text>
<text transform="translate(275,1687.2) rotate(-90)" font-size="41.8" fill="#000" text-anchor="middle">Correlation coefficient</text>
<text transform="translate(323.6,1687.8) rotate(-90)" font-size="42.25" fill="#000" text-anchor="middle">(MADRAS/ Serum metabolite level)</text>
<text x="1353.6" y="1099.5" font-size="38" fill="#000" textLength="69" lengthAdjust="spacingAndGlyphs">Leu</text>
<text x="1362.6" y="1151.25" font-size="38" fill="#000" textLength="45.5" lengthAdjust="spacingAndGlyphs">Ile</text>
<text x="1195.3" y="1202" font-size="39.5" fill="#000" textLength="191" lengthAdjust="spacingAndGlyphs">Carnosine</text>
<text x="1193.2" y="1250" font-size="39.5" fill="#000" textLength="192" lengthAdjust="spacingAndGlyphs">(βAla-His)</text>
<text x="472" y="2215" font-size="38.5" fill="#000" textLength="167" lengthAdjust="spacingAndGlyphs">γGlu-Ser</text>
<text x="455.2" y="2277" font-size="39" fill="#000" textLength="65" lengthAdjust="spacingAndGlyphs">Gln</text>
<text x="437.4" y="2330" font-size="40" fill="#000" textLength="212" lengthAdjust="spacingAndGlyphs">Hyroxy-Pro</text>
<g stroke="#000" stroke-width="1.6" stroke-linecap="round"><line x1="1425.9" y1="1097.8" x2="1458" y2="1099.9"/><line x1="1411.8" y1="1132.8" x2="1451.8" y2="1121.9"/><line x1="1387.2" y1="1181.4" x2="1452.8" y2="1164.1"/><line x1="434.25" y1="2201.75" x2="467" y2="2203.75"/><line x1="430.75" y1="2223.25" x2="455" y2="2253"/><line x1="430.4" y1="2262.4" x2="431.4" y2="2261.6"/></g>
</svg>
</body>
</html>
